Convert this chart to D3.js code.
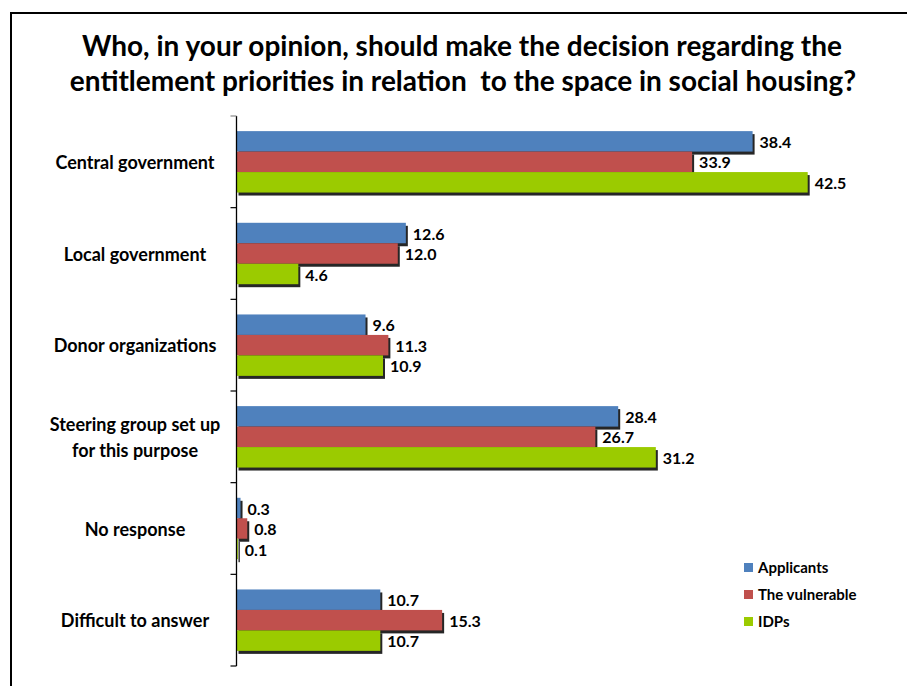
<!DOCTYPE html>
<html>
<head>
<meta charset="utf-8">
<script src="https://d3js.org/d3.v7.min.js"></script>
<style>
  body { margin: 0; background: #fff; }
  text { font-family: Lato, "Open Sans", sans-serif; font-weight: bold; fill: #000; }
</style>
</head>
<body>
<div id="chart"></div>
<script>
var categories = ["Central government", "Local government", "Donor organizations",
                  "Steering group set up for this purpose", "No response", "Difficult to answer"];
var seriesNames = ["Applicants", "The vulnerable", "IDPs"];
var applicants = [38.4, 12.6, 9.6, 28.4, 0.3, 10.7];
var vulnerable = [33.9, 12.0, 11.3, 26.7, 0.8, 15.3];
var idps = [42.5, 4.6, 10.9, 31.2, 0.1, 10.7];
var colors = ["#4f81bd", "#c0504d", "#9bcb00"];

var W = 907, H = 686;
var svg = d3.select("#chart").append("svg")
    .attr("width", W)
    .attr("height", H);

// frame
svg.append("path")
  .attr("d", "M11,690 L11,13 L910,13")
  .attr("fill", "none")
  .attr("stroke", "#000")
  .attr("stroke-width", 2);

// title
var title = svg.append("text")
  .attr("x", 462)
  .attr("text-anchor", "middle")
  .style("font-size", "28px")
  .style("white-space", "pre");
title.append("tspan").attr("x", 462).attr("y", 56)
  .text("Who, in your opinion, should make the decision regarding the");
title.append("tspan").attr("x", 463).attr("y", 91)
  .text("entitlement priorities in relation  to the space in social housing?");

var data = categories.map(function(c, i) {
  return { cat: c, values: [applicants[i], vulnerable[i], idps[i]] };
});

var x = d3.scaleLinear().domain([0, 1]).range([236.5, 236.5 + 13.44]);

var y0 = d3.scaleBand()
  .domain(categories)
  .range([116, 666])
  .paddingInner(0.33)
  .paddingOuter(0.165);

var y1 = d3.scaleBand()
  .domain(seriesNames)
  .range([0, y0.bandwidth()]);

var groups = svg.selectAll(".grp")
  .data(data)
  .enter().append("g")
  .attr("class", "grp")
  .attr("transform", function(d) { return "translate(0," + y0(d.cat) + ")"; });

groups.each(function(d) {
  var g = d3.select(this);
  seriesNames.forEach(function(s, j) {
    var v = d.values[j];
    // shadow
    g.append("rect")
      .attr("x", x(0) + 2)
      .attr("y", y1(s) + 3)
      .attr("width", x(v) - x(0))
      .attr("height", y1.bandwidth())
      .attr("fill", "#000")
      .attr("opacity", 0.85);
    g.append("rect")
      .attr("x", x(0))
      .attr("y", y1(s))
      .attr("width", x(v) - x(0))
      .attr("height", y1.bandwidth())
      .attr("fill", colors[j]);
  });
});

// value labels on top
groups.each(function(d) {
  var g = d3.select(this);
  seriesNames.forEach(function(s, j) {
    var v = d.values[j];
    g.append("text")
      .attr("x", x(v) + 7)
      .attr("y", y1(s) + y1.bandwidth() / 2 + 1)
      .attr("dy", "0.35em")
      .style("font-size", "16px")
      .text(v.toFixed(1));
  });
});

// axis
var step = y0.step();
svg.append("line")
  .attr("x1", x(0)).attr("x2", x(0))
  .attr("y1", 116).attr("y2", 666)
  .attr("stroke", "#000").attr("stroke-width", 1.3);
var ticks = d3.range(categories.length + 1).map(function(i) { return 116 + i * step; });
svg.selectAll(".tick")
  .data(ticks)
  .enter().append("line")
  .attr("x1", x(0) - 6).attr("x2", x(0))
  .attr("y1", function(d) { return d; })
  .attr("y2", function(d) { return d; })
  .attr("stroke", function(d, i) { return i === 0 ? "#888" : "#000"; })
  .attr("stroke-width", 1.2);

// category labels
svg.selectAll(".cat")
  .data(categories)
  .enter().append("text")
  .attr("class", "cat")
  .attr("text-anchor", "middle")
  .attr("x", 135)
  .attr("y", function(d) { return y0(d) + y0.bandwidth() / 2 + 1; })
  .style("font-size", "18px")
  .each(function(d) {
    var t = d3.select(this);
    var lines = d === "Steering group set up for this purpose"
      ? ["Steering group set up", "for this purpose"] : [d];
    lines.forEach(function(l, i) {
      t.append("tspan")
        .attr("x", 135)
        .attr("dy", i === 0 ? (0.35 - (lines.length - 1) * 0.72) + "em" : "1.44em")
        .text(l);
    });
  });

// legend
var legend = svg.selectAll(".leg")
  .data(seriesNames)
  .enter().append("g")
  .attr("transform", function(d, i) { return "translate(744," + (568 + i * 27) + ")"; });
legend.append("rect")
  .attr("x", 0).attr("y", -5)
  .attr("width", 9).attr("height", 9)
  .attr("fill", function(d, i) { return colors[i]; });
legend.append("text")
  .attr("x", 14).attr("y", 0).attr("dy", "0.35em")
  .style("font-size", "15px")
  .text(function(d) { return d; });
</script>
</body>
</html>
